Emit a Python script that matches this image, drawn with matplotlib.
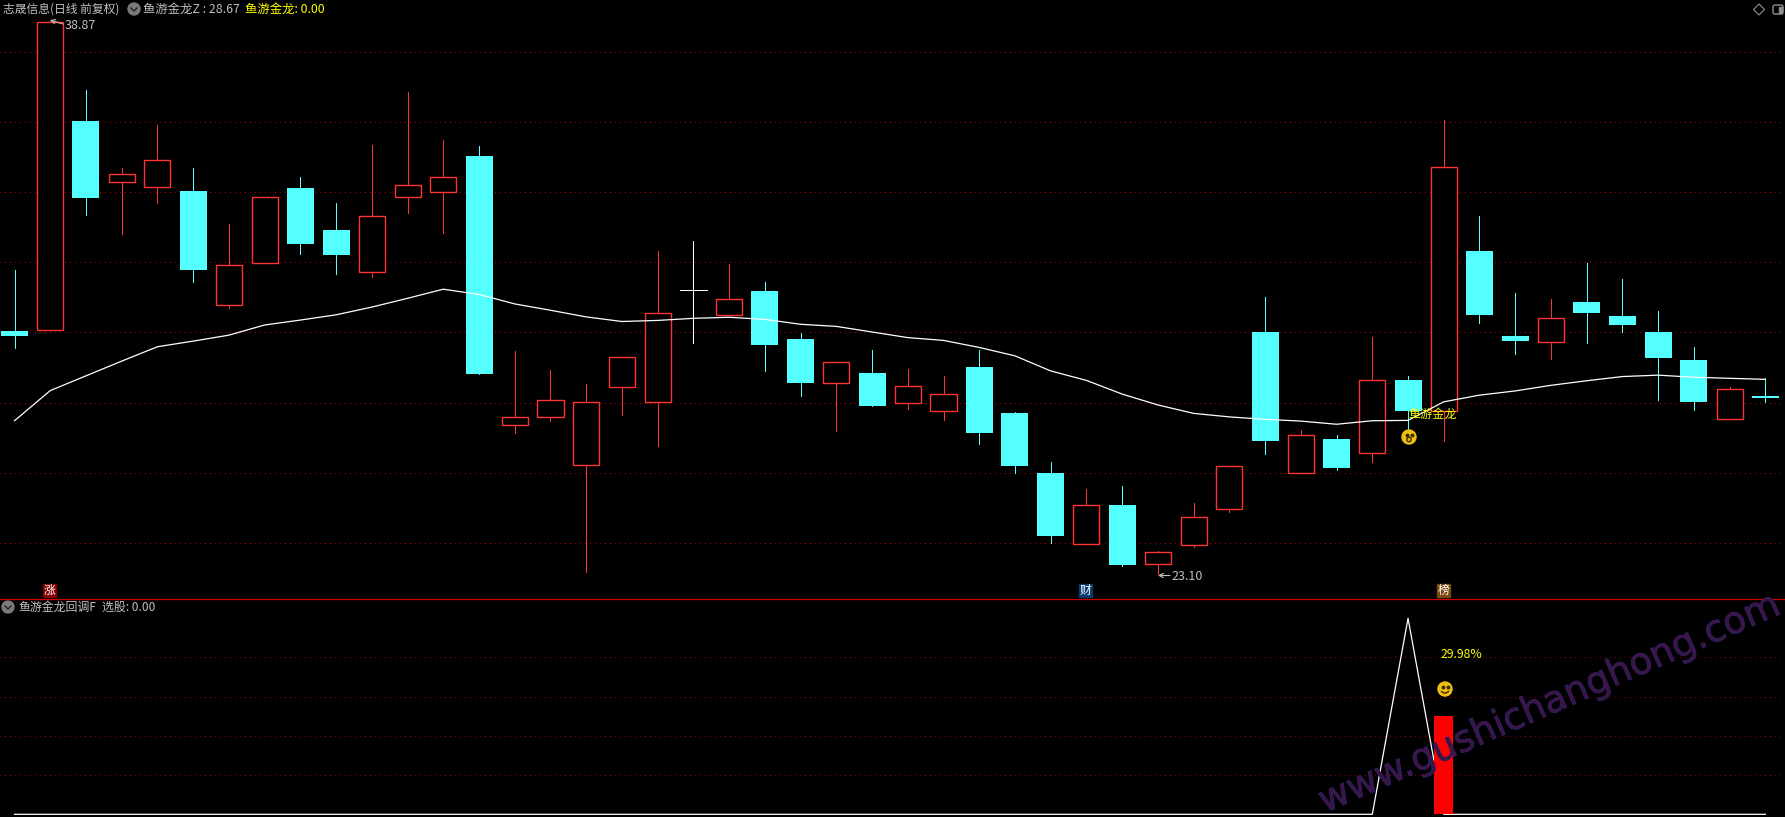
#K-line chart with indicator panel
import numpy as np
import matplotlib
matplotlib.use("Agg")
import matplotlib.pyplot as plt
import matplotlib.patheffects as pe
from matplotlib.patches import Circle, Arc, Rectangle, FancyBboxPatch, Polygon

plt.rcParams['font.family'] = ['Noto Sans CJK SC', 'DejaVu Sans']

#Data
opens = [30.04, 30.06, 36.02, 34.29, 34.15, 34.03, 30.79, 31.99, 34.11, 32.92,
         31.73, 33.87, 34.01, 35.03, 27.35, 27.60, 26.21, 28.43, 28.01, 31.20,
         30.49, 31.18, 29.81, 28.56, 28.84, 27.99, 27.77, 29.01, 27.70, 25.99,
         23.97, 25.08, 23.40, 23.95, 24.97, 30.01, 25.98, 26.96, 26.57, 28.64,
         27.75, 32.32, 29.90, 29.73, 30.86, 30.47, 30.01, 29.21, 27.54, 28.19]
closes = [29.90, 38.85, 33.84, 34.51, 34.90, 31.78, 31.91, 33.85, 32.52, 32.20,
          33.31, 34.19, 34.42, 28.81, 27.58, 28.06, 28.01, 29.29, 30.54, 31.20,
          30.94, 29.64, 28.56, 29.15, 27.90, 28.46, 28.23, 27.13, 26.19, 24.19,
          25.07, 23.37, 23.73, 24.73, 26.18, 26.90, 27.06, 26.13, 28.63, 27.76,
          34.70, 30.49, 29.75, 30.40, 30.55, 30.21, 29.27, 28.01, 28.38, 28.13]
highs = [31.78, 38.87, 36.91, 34.68, 35.91, 34.68, 33.09, 33.85, 34.43, 33.69,
         35.34, 36.85, 35.48, 35.31, 29.47, 28.93, 28.53, 29.29, 32.32, 32.60,
         31.95, 31.44, 29.98, 29.15, 29.50, 28.95, 28.76, 29.50, 27.73, 26.30,
         25.53, 25.62, 23.77, 25.14, 26.18, 31.00, 27.22, 27.07, 29.86, 28.76,
         36.05, 33.32, 31.12, 30.95, 31.98, 31.52, 30.61, 29.58, 28.44, 28.70]
lows = [29.56, 30.06, 33.34, 32.81, 33.70, 31.44, 30.69, 31.99, 32.23, 31.66,
        31.59, 33.40, 32.84, 28.81, 27.14, 27.47, 23.18, 27.65, 26.77, 29.70,
        30.49, 28.91, 28.19, 27.20, 27.90, 27.81, 27.50, 26.82, 25.99, 23.99,
        23.97, 23.34, 23.10, 23.89, 24.89, 26.53, 25.98, 26.08, 26.30, 27.24,
        26.91, 30.27, 29.38, 29.24, 29.70, 30.01, 28.07, 27.79, 27.54, 28.01]
ma_line = [27.48, 28.34, 28.76, 29.18, 29.59, 29.75, 29.92, 30.21, 30.35, 30.50,
           30.72, 30.97, 31.23, 31.08, 30.81, 30.63, 30.44, 30.31, 30.34, 30.40,
           30.43, 30.37, 30.23, 30.17, 30.01, 29.85, 29.77, 29.57, 29.33, 28.90,
           28.63, 28.24, 27.93, 27.69, 27.59, 27.52, 27.47, 27.38, 27.48, 27.49,
           28.02, 28.21, 28.33, 28.49, 28.62, 28.74, 28.78, 28.72, 28.69, 28.66]
price_grid = [38, 36, 34, 32, 30, 28, 26, 24]

pick_line = [0] * 39 + [100] + [0] * 10
pick_bar_x = [40]
pick_bar_h = [50]
lower_grid = [20, 40, 60, 80]

title_stock = "志晟信息(日线 前复权)"
title_z = "鱼游金龙Z : 28.67"
title_gold = "鱼游金龙: 0.00"
title_lower = "鱼游金龙回调F"
title_pick = "选股: 0.00"
badges = ["涨", "财", "榜"]
watermark = "www.gushichanghong.com"

RED = "#ff3232"
CYAN = "#54ffff"
GRID = "#b00000"
GRAY = "#c0c0c0"
YELLOW = "#ffff00"
W, H = 1785, 817
LW = 0.72

fig = plt.figure(figsize=(W / 100, H / 100), dpi=100, facecolor="black")

#Panels are placed by pixel rows
split = 598.5
ax = fig.add_axes([0, 1 - split / H, 1, split / H], facecolor="black")
ax2 = fig.add_axes([0, 0, 1, 1 - split / H], facecolor="black")
xlim = (-0.406, 49.55)
ax.set_xlim(xlim)
ax.set_ylim(22.413, 39.474)
ax2.set_xlim(xlim)
ax2.set_ylim(-1.38, 110.1)
for a in (ax, ax2):
    a.axis("off")

#Grid
for p in price_grid:
    ax.axhline(p, color=GRID, lw=LW, ls=(0, (1, 5)), zorder=1, antialiased=False)
for v in lower_grid:
    ax2.axhline(v, color="#8a0000", lw=LW, ls=(0, (1, 5)), zorder=1, antialiased=False)

#Candles
x = np.arange(len(opens))
for i in x:
    o, c, h, l = opens[i], closes[i], highs[i], lows[i]
    top, bot = max(o, c), min(o, c)
    if c == o:
        ax.vlines(i, l, h, color="white", lw=LW, zorder=3, antialiased=False)
        ax.hlines(c, i - 0.37, i + 0.37, color="white", lw=LW, zorder=3, antialiased=False)
    elif c > o:
        ax.vlines(i, top, h, color=RED, lw=LW, zorder=3, antialiased=False)
        ax.vlines(i, l, bot, color=RED, lw=LW, zorder=3, antialiased=False)
        ax.bar(i, top - bot, bottom=bot, width=0.73, facecolor="black", edgecolor=RED, lw=1.0, zorder=3)
    else:
        ax.vlines(i, l, h, color=CYAN, lw=LW, zorder=3, antialiased=False)
        ax.bar(i, top - bot, bottom=bot, width=0.756, facecolor=CYAN, edgecolor="none", zorder=3)

ax.plot(x, ma_line, color="white", lw=0.9, zorder=4)

#Lower panel
ax2.plot(x, pick_line, color="white", lw=0.9, zorder=3)
ax2.bar(pick_bar_x, pick_bar_h, width=0.53, color="#ff0000", zorder=4)

#Overlay in pixel coordinates for labels and icons
ov = fig.add_axes([0, 0, 1, 1], facecolor="none")
ov.set_xlim(0, W)
ov.set_ylim(H, 0)
ov.axis("off")
ov.set_zorder(5)

ov.plot([0, W], [split, split], color="#c80000", lw=0.9)


def label(px, py, s, color=GRAY, size=9.0, **kw):
    ov.text(px, py, s, color=color, fontsize=size, va="center", ha="left", **kw)


def drop_icon(cx, cy):
    ov.add_patch(Circle((cx, cy), 6, color="#7a7a7a"))
    ov.plot([cx - 3, cx, cx + 3], [cy - 1, cy + 2, cy - 1], color="#222222", lw=1)


def face(cx, cy, smile):
    ov.add_patch(Circle((cx, cy), 7, color="#f0c010", zorder=6))
    ov.plot([cx - 2.5, cx + 2.5], [cy - 2, cy - 2], ls="none", marker="o", ms=1.8, color="#3a2a00", zorder=7)
    if smile:
        ov.add_patch(Arc((cx, cy + 0.5), 8, 7, theta1=20, theta2=160, color="#3a2a00", lw=1, zorder=7))
    else:
        ov.add_patch(Circle((cx, cy + 2.5), 2.2, fc="none", ec="#3a2a00", lw=1, zorder=7))


def badge(px, s, color):
    ov.add_patch(Rectangle((px, 584), 13, 13, color=color, zorder=6))
    ov.text(px + 6.5, 590.5, s, color="white", fontsize=8.5, ha="center", va="center", zorder=7)


arrow = dict(arrowstyle="->,head_width=0.15,head_length=0.3", color=GRAY, lw=0.8, shrinkA=0, shrinkB=0)

label(3, 9, title_stock, size=8.5)
drop_icon(134, 9)
label(143, 9, title_z, size=8.9)
label(245, 9, title_gold, color=YELLOW, size=8.9)
drop_icon(8, 607)
label(18, 607, title_lower, size=8.6)
label(102, 607, title_pick, size=8.6)

label(65, 25, "38.87", size=9)
ov.annotate("", xy=(50, 20), xytext=(63, 24), arrowprops=arrow)
label(1171, 577, "23.10", size=9)
ov.annotate("", xy=(1158, 575.5), xytext=(1170, 575.5), arrowprops=arrow)

label(1408, 414, "鱼游金龙", color=YELLOW, size=8.7, zorder=7)
label(1441, 655, "29.98%", color=YELLOW, size=8.8, zorder=7)
face(1409, 437, False)
face(1445, 689, True)

badge(43, badges[0], "#800000")
badge(1079, badges[1], "#0a3a6e")
badge(1437, badges[2], "#7a4a10")

#Top right icons
ov.add_patch(Polygon([(1759, 4), (1764.5, 9.5), (1759, 15), (1753.5, 9.5)], fc="none", ec="#909090", lw=0.8))
ov.add_patch(FancyBboxPatch((1773, 5), 10, 9, boxstyle="round,pad=0,rounding_size=2", fc="none", ec="#909090", lw=1))
ov.add_patch(Rectangle((1779, 6.5), 3, 6, color="#909090"))

#Watermark
ov.text(1325, 813, watermark, color="#3a1648", fontsize=26.8, rotation=23.6,
        rotation_mode="anchor", ha="left", va="baseline", family="DejaVu Sans", zorder=8,
        path_effects=[pe.withStroke(linewidth=0.6, foreground="#24246a")])

fig.savefig("out.png", dpi=100, facecolor="black")
